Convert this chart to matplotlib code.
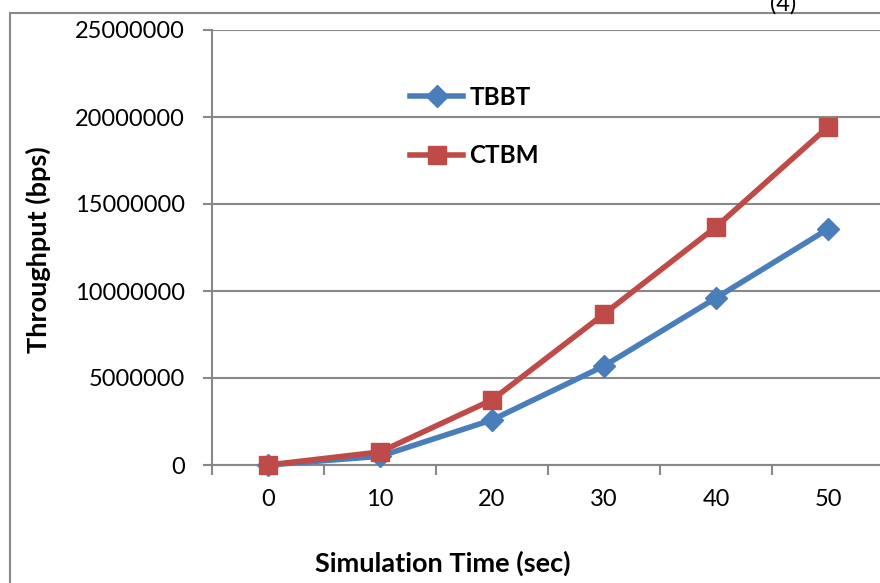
import matplotlib
matplotlib.use("Agg")
import matplotlib.pyplot as plt
from matplotlib.patches import Rectangle
from matplotlib.ticker import FixedLocator, NullFormatter

plt.rcParams['font.family'] = ['Lato', 'DejaVu Sans']

categories = ["0", "10", "20", "30", "40", "50"]
tbbt = [0, 500000, 2590000, 5690000, 9600000, 13560000]
ctbm = [0, 750000, 3740000, 8680000, 13680000, 19430000]
y_ticks = [0, 5000000, 10000000, 15000000, 20000000, 25000000]

W, H = 880, 583
fig = plt.figure(figsize=(W / 100, H / 100), dpi=100)
fig.patch.set_facecolor("white")

# outer chart frame
fig.patches.append(Rectangle((9.5 / W, -0.2), 2.0, (H - 13) / H + 0.2,
                             transform=fig.transFigure, fill=False,
                             edgecolor="#898989", linewidth=1.5))

left, right, top, bottom = 212, 884, 30, 465
ax = fig.add_axes([left / W, (H - bottom) / H, (right - left) / W, (bottom - top) / H])
ax.set_facecolor("none")

x = list(range(len(categories)))
grid_c = "#888888"

ax.set_ylim(0, 25000000)
ax.set_xlim(-0.5, len(categories) - 0.5)
ax.set_yticks(y_ticks)
ax.set_yticklabels([str(v) for v in y_ticks])
ax.yaxis.grid(True, color=grid_c, linewidth=1.5)
ax.set_axisbelow(True)

for s in ["top", "right"]:
    ax.spines[s].set_visible(False)
for s in ["left", "bottom"]:
    ax.spines[s].set_color(grid_c)
    ax.spines[s].set_linewidth(1.5)

ax.set_xticks(x)
ax.set_xticklabels(categories)
ax.xaxis.set_minor_locator(FixedLocator([i - 0.5 for i in range(len(categories) + 1)]))
ax.xaxis.set_minor_formatter(NullFormatter())
ax.tick_params(axis="x", which="major", length=0, pad=17, labelsize=17, colors="black")
ax.tick_params(axis="x", which="minor", length=7.5, width=1.5, color=grid_c, direction="out")
ax.tick_params(axis="y", which="major", length=6.5, width=1.5, color=grid_c, pad=13,
               labelsize=17, labelcolor="black")

blue = "#4A7EBB"
red = "#BE4B48"
ax.plot(x, tbbt, color=blue, linewidth=4, marker="D", markersize=11.5,
        markeredgecolor=blue, markerfacecolor=blue, label="TBBT", clip_on=False, zorder=3)
ax.plot(x, ctbm, color=red, linewidth=4, marker="s", markersize=13.5,
        markeredgecolor=red, markerfacecolor=red, label="CTBM", clip_on=False, zorder=4)

leg = ax.legend(loc="upper left", bbox_to_anchor=((410 - left) / (right - left), (bottom - 86) / (bottom - top)),
                frameon=False, handlelength=2.2, handletextpad=0.25, labelspacing=1.45,
                borderaxespad=0, borderpad=0,
                prop={"weight": "bold", "size": 17.5})

fig.text(38 / W, (H - 250) / H, "Throughput (bps)", rotation=90, fontsize=19.5,
         fontweight="bold", ha="center", va="center")
fig.text(443 / W, (H - 563) / H, "Simulation Time (sec)", fontsize=19.5,
         fontweight="bold", ha="center", va="center")

fig.text(783 / W, (H - 11) / H, "(4)", fontsize=17, ha="center", va="baseline")

fig.savefig("out.png", dpi=100)
